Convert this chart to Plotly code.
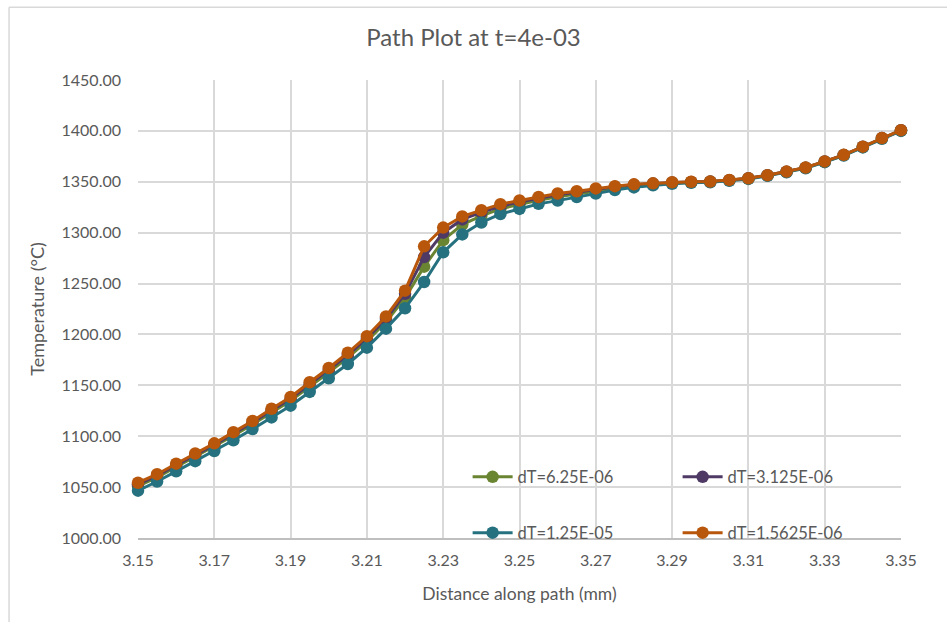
import plotly.graph_objects as go

# Positions along the path (mm)
distance = [3.150, 3.155, 3.160, 3.165, 3.170, 3.175, 3.180, 3.185, 3.190, 3.195,
            3.200, 3.205, 3.210, 3.215, 3.220, 3.225, 3.230, 3.235, 3.240, 3.245,
            3.250, 3.255, 3.260, 3.265, 3.270, 3.275, 3.280, 3.285, 3.290, 3.295,
            3.300, 3.305, 3.310, 3.315, 3.320, 3.325, 3.330, 3.335, 3.340, 3.345,
            3.350]

# Temperature (°C) for each time-step size
temp_dt_6_25e_06 = [1051.0, 1059.5, 1069.8, 1079.8, 1089.8, 1100.5, 1111.5, 1123.3, 1134.8, 1148.8,
                    1162.5, 1177.2, 1193.5, 1212.3, 1236.0, 1266.6, 1292.6, 1308.0, 1316.6, 1323.5,
                    1327.8, 1331.8, 1335.3, 1338.0, 1341.0, 1343.8, 1346.0, 1347.5, 1348.8, 1349.5,
                    1350.0, 1351.4, 1353.2, 1356.2, 1359.7, 1363.7, 1369.7, 1376.2, 1384.2, 1392.7,
                    1400.4]
temp_dt_3_125e_06 = [1052.8, 1061.2, 1071.5, 1081.5, 1091.5, 1102.4, 1113.4, 1125.3, 1136.8, 1151.0,
                     1165.0, 1179.8, 1196.0, 1215.2, 1240.0, 1276.0, 1300.0, 1313.0, 1320.0, 1326.0,
                     1330.0, 1333.6, 1337.2, 1339.6, 1342.5, 1345.0, 1347.0, 1348.2, 1349.2, 1349.8,
                     1350.2, 1351.6, 1353.4, 1356.4, 1359.9, 1363.9, 1369.9, 1376.4, 1384.4, 1392.9,
                     1400.6]
temp_dt_1_25e_05 = [1046.5, 1055.5, 1065.5, 1075.5, 1085.5, 1096.0, 1107.0, 1118.5, 1130.0, 1143.5,
                    1157.0, 1171.0, 1187.0, 1205.7, 1225.7, 1251.5, 1280.7, 1298.3, 1310.0, 1318.3,
                    1323.3, 1328.3, 1331.5, 1335.0, 1338.5, 1341.8, 1344.5, 1346.5, 1348.0, 1349.0,
                    1349.5, 1351.0, 1352.8, 1355.8, 1359.3, 1363.3, 1369.3, 1375.8, 1383.8, 1392.3,
                    1400.0]
temp_dt_1_5625e_06 = [1054.3, 1062.7, 1073.0, 1083.0, 1093.0, 1104.0, 1115.0, 1127.0, 1138.5, 1153.0,
                      1167.0, 1182.0, 1198.3, 1217.7, 1243.0, 1286.6, 1305.0, 1316.0, 1322.0, 1328.0,
                      1331.6, 1335.0, 1338.5, 1340.7, 1343.5, 1345.7, 1347.5, 1348.5, 1349.5, 1350.0,
                      1350.3, 1351.8, 1353.5, 1356.5, 1360.0, 1364.0, 1370.0, 1376.5, 1384.5, 1393.0,
                      1400.7]

series = [
    ("dT=6.25E-06", temp_dt_6_25e_06, "#6A8532", "legend"),
    ("dT=3.125E-06", temp_dt_3_125e_06, "#4F3A66", "legend"),
    ("dT=1.25E-05", temp_dt_1_25e_05, "#26717F", "legend2"),
    ("dT=1.5625E-06", temp_dt_1_5625e_06, "#B8570B", "legend2"),
]

FONT = "Lato"
GREY = "#595959"

fig = go.Figure()
for name, temps, color, leg in series:
    fig.add_trace(go.Scatter(
        x=distance, y=temps, name=name, mode="lines+markers",
        line=dict(color=color, width=3),
        marker=dict(color=color, size=12.5),
        cliponaxis=False,
        legend=leg,
    ))

legend_common = dict(
    orientation="h", xanchor="left", yanchor="middle",
    bgcolor="rgba(0,0,0,0)", font=dict(family=FONT, size=16.5, color=GREY),
    entrywidth=155, entrywidthmode="pixels", itemwidth=40,
)

fig.update_layout(
    width=947, height=622,
    paper_bgcolor="white", plot_bgcolor="white",
    margin=dict(l=138, r=46, t=80, b=84, autoexpand=False),
    title=dict(text="Path Plot at t=4e-03", x=0.5, xanchor="center", y=0.94, yanchor="middle",
               font=dict(family=FONT, size=24, color=GREY)),
    font=dict(family=FONT, color=GREY),
    legend=dict(x=0.432, y=0.133, **legend_common),
    legend2=dict(x=0.432, y=0.011, **legend_common),
    xaxis=dict(
        range=[3.15, 3.35], tick0=3.15, dtick=0.02, tickformat=".2f",
        showgrid=True, gridcolor="#D9D9D9", gridwidth=1.5,
        showline=True, linecolor="#BFBFBF", linewidth=1.5,
        ticks="", zeroline=False, ticklabelstandoff=7,
        tickfont=dict(family=FONT, size=16, color=GREY),
        title=dict(text="Distance along path (mm)", standoff=20,
                   font=dict(family=FONT, size=17.5, color=GREY)),
    ),
    yaxis=dict(
        range=[1000, 1450], dtick=50, tickformat=".2f",
        showgrid=True, gridcolor="#D9D9D9", gridwidth=1.5,
        showline=False, ticks="", zeroline=False, ticklabelstandoff=16,
        tickfont=dict(family=FONT, size=16, color=GREY),
        title=dict(text="Temperature (°C)", standoff=12,
                   font=dict(family=FONT, size=18, color=GREY)),
    ),
    shapes=[
        dict(type="line", xref="paper", yref="paper", x0=-0.169, x1=1.1, y0=1.159, y1=1.159,
             line=dict(color="#D9D9D9", width=1.5)),
        dict(type="line", xref="paper", yref="paper", x0=-0.169, x1=-0.169, y0=-0.2, y1=1.159,
             line=dict(color="#D9D9D9", width=1.5)),
    ],
)

fig.write_html("out.html")
